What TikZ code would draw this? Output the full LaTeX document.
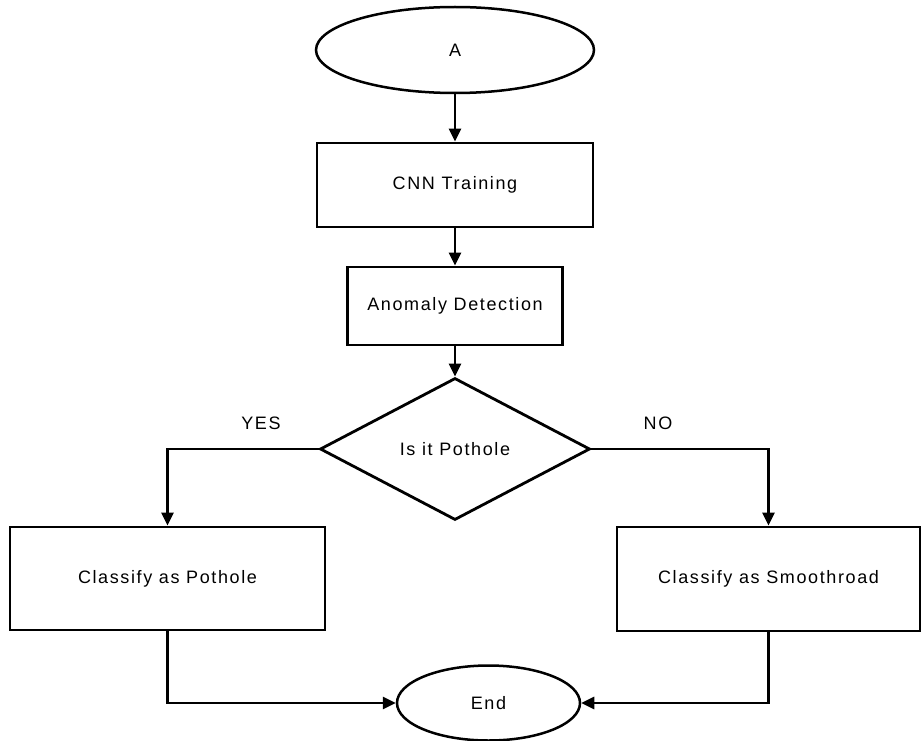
\documentclass[tikz,border=0pt]{standalone}
\usepackage{fontspec}
\setmainfont{Liberation Sans}[LetterSpace=9]
\usepackage{tikz}
\usetikzlibrary{shapes.geometric,arrows.meta}

\tikzset{
    flowbox/.style={draw, rectangle, line width=2.8pt, inner sep=0pt},
    flowoval/.style={draw, ellipse, line width=2.5pt, inner sep=0pt},
    flowcheck/.style={draw, diamond, line width=2.8pt, inner sep=0pt},
    flowline/.style={line width=2.8pt, -{Triangle[length=13pt,width=12pt]}}
}

\begin{document}
\begin{tikzpicture}[x=1pt, y=-1pt, font=\fontsize{18}{22}\selectfont]
    \useasboundingbox (0,0) rectangle (923,741);

    \node[flowoval, minimum width=278pt, minimum height=86pt] (start) at (455,50) {A};
    \node[flowbox, minimum width=276pt, minimum height=84pt] (train) at (455,185) {CNN Training};
    \node[flowbox, minimum width=215pt, minimum height=78pt] (detect) at (455,306) {Anomaly Detection};
    \node[flowcheck, minimum width=270pt, minimum height=142pt] (check) at (455,449) {Is it Pothole};
    \node[flowbox, minimum width=315pt, minimum height=103pt] (pothole) at (167.5,578.5) {Classify as Pothole};
    \node[flowbox, minimum width=303pt, minimum height=104pt] (smooth) at (768.5,579) {Classify as Smoothroad};
    \node[flowoval, minimum width=183pt, minimum height=75pt] (stop) at (488.5,703) {End};

    \node (yes) at (261,423) {YES};
    \node (no) at (658,423) {NO};

    \draw[flowline] (start) -- (train);
    \draw[flowline] (train) -- (detect);
    \draw[flowline] (detect) -- (check);
    \draw[flowline] (check.west) -| (pothole.north);
    \draw[flowline] (check.east) -| (smooth.north);
    \draw[flowline] (pothole.south) |- (stop.west);
    \draw[flowline] (smooth.south) |- (stop.east);
\end{tikzpicture}
\end{document}
